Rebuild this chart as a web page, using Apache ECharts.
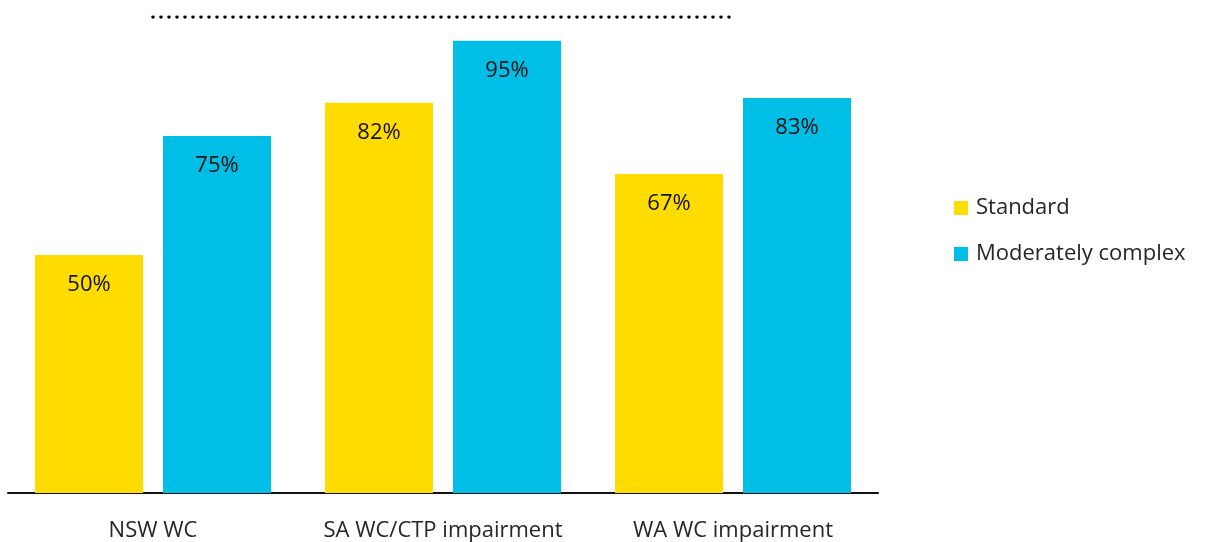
<!DOCTYPE html>
<html>
<head>
<meta charset="utf-8">
<script src="https://cdn.jsdelivr.net/npm/echarts@6/dist/echarts.min.js"></script>
<style>html,body{margin:0;padding:0;background:#fff;}#c{width:1212px;height:542px;}</style>
</head>
<body>
<div id="c"></div>
<script>
const categories = ['NSW WC', 'SA WC/CTP impairment', 'WA WC impairment'];
const standard = [50, 82, 67];
const moderatelyComplex = [75, 95, 83];
const reference = [100, 100, 100];

const chart = echarts.init(document.getElementById('c'));
const font = '"Open Sans", "Noto Sans", sans-serif';
const labelCfg = {
  show: true, position: 'insideTop', distance: 19,
  formatter: p => p.value + '%', color: '#111', fontSize: 22, fontFamily: font
};
chart.setOption({
  animation: false,
  grid: { left: 8, right: 334, top: 17, bottom: 48, containLabel: false },
  legend: {
    data: ['Standard', 'Moderately complex'],
    orient: 'vertical', left: 949, top: 192,
    itemWidth: 14, itemHeight: 14, itemGap: 24, icon: 'rect',
    textStyle: { fontSize: 22, color: '#262626', fontFamily: font, padding: [0, 0, 0, 3] }
  },
  xAxis: {
    type: 'category', data: categories,
    axisLine: { lineStyle: { color: '#111', width: 2 } },
    axisTick: { show: false },
    axisLabel: { fontSize: 22, color: '#262626', margin: 27, interval: 0, hideOverlap: false, fontFamily: font }
  },
  yAxis: { type: 'value', min: 0, max: 100, show: false, splitLine: { show: false } },
  series: [
    { name: 'Standard', type: 'bar', data: standard, barWidth: 108, barGap: '18.5%',
      itemStyle: { color: '#FFDC00' }, label: labelCfg },
    { name: 'Moderately complex', type: 'bar', data: moderatelyComplex, barWidth: 108,
      itemStyle: { color: '#00BEE6' }, label: labelCfg },
    { name: 'Reference', type: 'line', data: reference, symbol: 'none', silent: true,
      lineStyle: { color: '#000', width: 3.5, type: [0, 8], cap: 'round' } }
  ]
});
</script>
</body>
</html>
